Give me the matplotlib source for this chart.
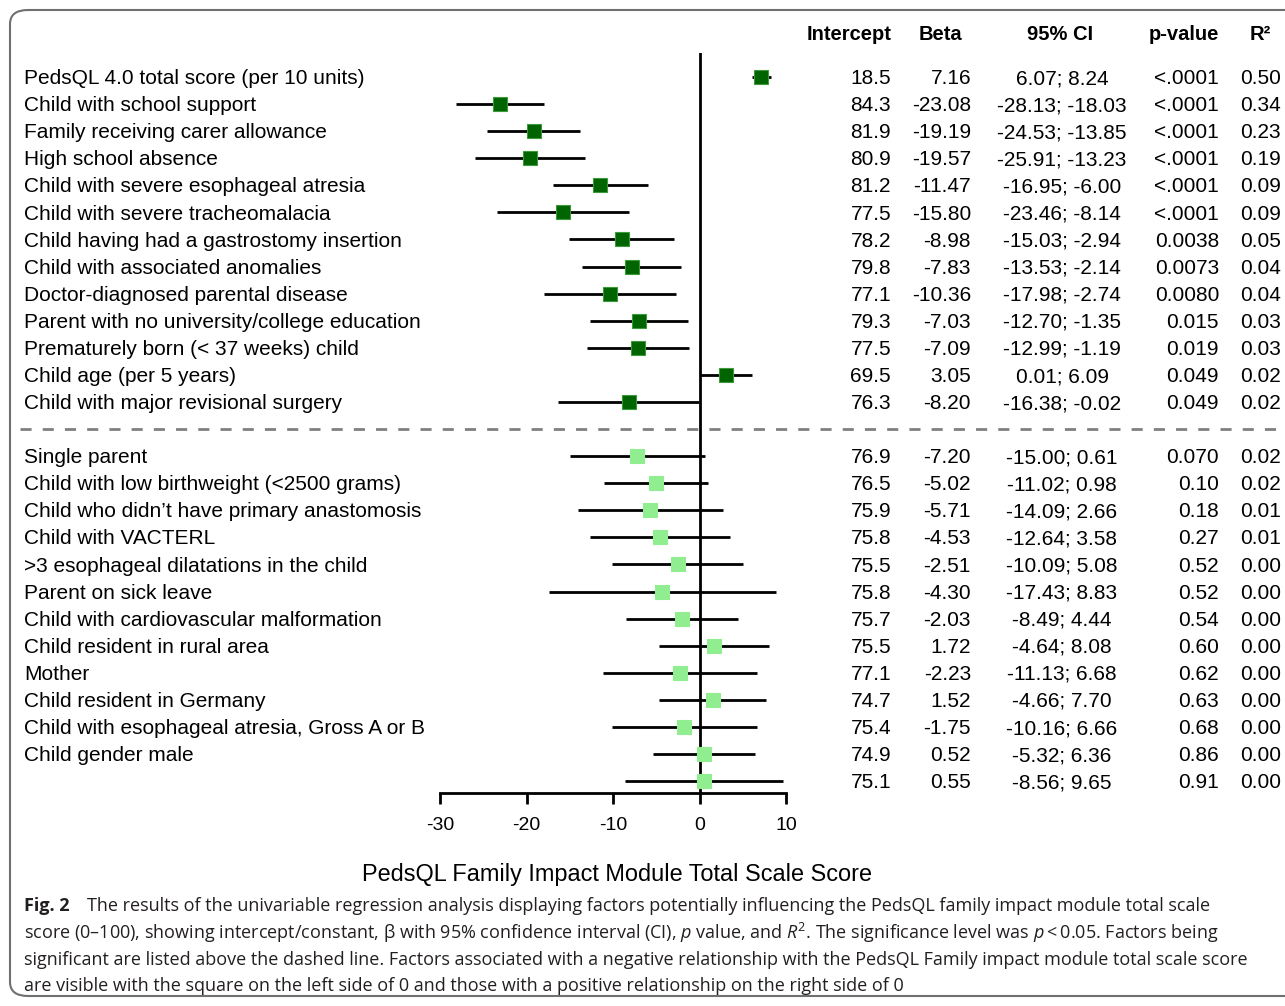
import matplotlib
matplotlib.use("Agg")
import matplotlib.pyplot as plt
from matplotlib.patches import FancyBboxPatch
from matplotlib.transforms import blended_transform_factory

plt.rcParams["font.family"] = ["Liberation Sans", "DejaVu Sans"]
plt.rcParams["mathtext.fontset"] = "custom"
plt.rcParams["mathtext.rm"] = "Open Sans"
plt.rcParams["mathtext.it"] = "Open Sans:italic"

# ── Datos ────────────────────────────────────────────────────────────────────
labels = [
    "PedsQL 4.0 total score (per 10 units)",
    "Child with school support",
    "Family receiving carer allowance",
    "High school absence",
    "Child with severe esophageal atresia",
    "Child with severe tracheomalacia",
    "Child having had a gastrostomy insertion",
    "Child with associated anomalies",
    "Doctor-diagnosed parental disease",
    "Parent with no university/college education",
    "Prematurely born (< 37 weeks) child",
    "Child age (per 5 years)",
    "Child with major revisional surgery",
    "Single parent",
    "Child with low birthweight (<2500 grams)",
    "Child who didn\u2019t have primary anastomosis",
    "Child with VACTERL",
    ">3 esophageal dilatations in the child",
    "Parent on sick leave",
    "Child with cardiovascular malformation",
    "Child resident in rural area",
    "Mother",
    "Child resident in Germany",
    "Child with esophageal atresia, Gross A or B",
    "Child gender male",
    "",
]
intercept = [18.5, 84.3, 81.9, 80.9, 81.2, 77.5, 78.2, 79.8, 77.1, 79.3, 77.5, 69.5, 76.3,
             76.9, 76.5, 75.9, 75.8, 75.5, 75.8, 75.7, 75.5, 77.1, 74.7, 75.4, 74.9, 75.1]
beta = [7.16, -23.08, -19.19, -19.57, -11.47, -15.80, -8.98, -7.83, -10.36, -7.03, -7.09, 3.05, -8.20,
        -7.20, -5.02, -5.71, -4.53, -2.51, -4.30, -2.03, 1.72, -2.23, 1.52, -1.75, 0.52, 0.55]
ci_lo = [6.07, -28.13, -24.53, -25.91, -16.95, -23.46, -15.03, -13.53, -17.98, -12.70, -12.99, 0.01, -16.38,
         -15.00, -11.02, -14.09, -12.64, -10.09, -17.43, -8.49, -4.64, -11.13, -4.66, -10.16, -5.32, -8.56]
ci_hi = [8.24, -18.03, -13.85, -13.23, -6.00, -8.14, -2.94, -2.14, -2.74, -1.35, -1.19, 6.09, -0.02,
         0.61, 0.98, 2.66, 3.58, 5.08, 8.83, 4.44, 8.08, 6.68, 7.70, 6.66, 6.36, 9.65]
pvals = ["<.0001", "<.0001", "<.0001", "<.0001", "<.0001", "<.0001", "0.0038", "0.0073", "0.0080",
         "0.015", "0.019", "0.049", "0.049",
         "0.070", "0.10", "0.18", "0.27", "0.52", "0.52", "0.54", "0.60", "0.62", "0.63", "0.68", "0.86", "0.91"]
r2 = [0.50, 0.34, 0.23, 0.19, 0.09, 0.09, 0.05, 0.04, 0.04, 0.03, 0.03, 0.02, 0.02,
      0.02, 0.02, 0.01, 0.01, 0.00, 0.00, 0.00, 0.00, 0.00, 0.00, 0.00, 0.00, 0.00]
n_sig = 13

_C_SIG = "#006400"
_C_NS = "#90EE90"

W, H = 1285, 1006
fig = plt.figure(figsize=(W / 100, H / 100), dpi=100)

# filas: los no significativos se desplazan un hueco (línea discontinua)
rows = [i if i < n_sig else i + 1 for i in range(len(labels))]

# ── Ejes del forest plot ─────────────────────────────────────────────────────
x0, x1 = 440, 786
y_top, y_bot = 53, 793
ax = fig.add_axes([x0 / W, 1 - y_bot / H, (x1 - x0) / W, (y_bot - y_top) / H])
ax.set_xlim(-30, 10)
row0, dy = 77, 27.08
ax.set_ylim((y_bot - row0) / dy, (y_top - row0) / dy)
ax.patch.set_visible(False)
for s in ("left", "top", "right"):
    ax.spines[s].set_visible(False)
ax.spines["bottom"].set_linewidth(2)
ax.set_yticks([])
ax.set_xticks([-30, -20, -10, 0, 10])
ax.set_xticklabels(["-30", "-20", "-10", "0", "10"])
ax.tick_params(axis="x", length=8, width=2, labelsize=14, pad=9)
ax.axvline(0, color="black", lw=2, zorder=1)

for i, r in enumerate(rows):
    ax.plot([ci_lo[i], ci_hi[i]], [r, r], color="black", lw=2, solid_capstyle="butt", zorder=2)
    col = _C_SIG if i < n_sig else _C_NS
    ax.plot(beta[i], r, marker="s", ms=9.5, color=col,
            markeredgecolor="#3c9a3c" if i < n_sig else _C_NS, mew=0.8, zorder=3)

# ── Texto: etiquetas y tabla ─────────────────────────────────────────────────
tr = blended_transform_factory(fig.transFigure, ax.transData)
fs = 15
ty = 0.06  # pequeño ajuste vertical del texto
for i, r in enumerate(rows):
    fig.text(24 / W, r + ty, labels[i], transform=tr, ha="left", va="center", fontsize=fs)
    ax.text(891 / W, r + ty, f"{intercept[i]:.1f}", transform=tr, ha="right", va="center", fontsize=fs)
    ax.text(971 / W, r + ty, f"{beta[i]:.2f}", transform=tr, ha="right", va="center", fontsize=fs)
    ax.text(1062 / W, r + ty, f"{ci_lo[i]:.2f}; {ci_hi[i]:.2f}", transform=tr, ha="center", va="center", fontsize=fs)
    ax.text(1219 / W, r + ty, pvals[i], transform=tr, ha="right", va="center", fontsize=fs)
    ax.text(1281 / W, r + ty, f"{r2[i]:.2f}", transform=tr, ha="right", va="center", fontsize=fs)

hy = (35 - row0) / dy
hkw = dict(transform=tr, va="center", fontsize=14.5, fontweight="bold")
ax.text(891 / W, hy, "Intercept", ha="right", **hkw)
ax.text(940 / W, hy, "Beta", ha="center", **hkw)
ax.text(1060 / W, hy, "95% CI", ha="center", **hkw)
ax.text(1219 / W, hy, "p-value", ha="right", **hkw)
ax.text(1260 / W, hy, "R\u00b2", ha="center", **hkw)

# línea discontinua de significación
ax.plot([20 / W, 1.0], [n_sig, n_sig], transform=tr, color="#808080", lw=2,
        dashes=(4, 4), clip_on=False, zorder=0)

fig.text(617 / W, 1 - 874 / H, "PedsQL Family Impact Module Total Scale Score",
         ha="center", va="center", fontsize=16.9)

# ── Pie de figura ────────────────────────────────────────────────────────────
cap_fs = 13.0
cap_kw = dict(family=["Open Sans", "DejaVu Sans"], fontsize=cap_fs, color="#231f20", va="center")
fig.text(24 / W, 1 - 906 / H, "Fig. 2", fontweight="bold", **cap_kw)
fig.text(87 / W, 1 - 906 / H,
         "The results of the univariable regression analysis displaying factors potentially "
         "influencing the PedsQL family impact module total scale", **cap_kw)
fig.text(24 / W, 1 - 933 / H,
         "score (0\u2013100), showing intercept/constant, \u03b2 with 95% confidence interval (CI), "
         "$p$ value, and $R^2$. The significance level was $p$\u2009<\u20090.05. Factors being", **cap_kw)
fig.text(24 / W, 1 - 960 / H,
         "significant are listed above the dashed line. Factors associated with a negative relationship "
         "with the PedsQL Family impact module total scale score", **cap_kw)
fig.text(24 / W, 1 - 986 / H,
         "are visible with the square on the left side of 0 and those with a positive relationship "
         "on the right side of 0", **cap_kw)

# marco redondeado
frame = FancyBboxPatch((10 / W, 10 / H), 1.05, 1 - 20 / H, transform=fig.transFigure,
                       boxstyle="round,pad=0,rounding_size=0.014", fill=False,
                       edgecolor="#707070", lw=1.5, clip_on=False)
fig.patches.append(frame)

fig.savefig("out.png", dpi=100)
